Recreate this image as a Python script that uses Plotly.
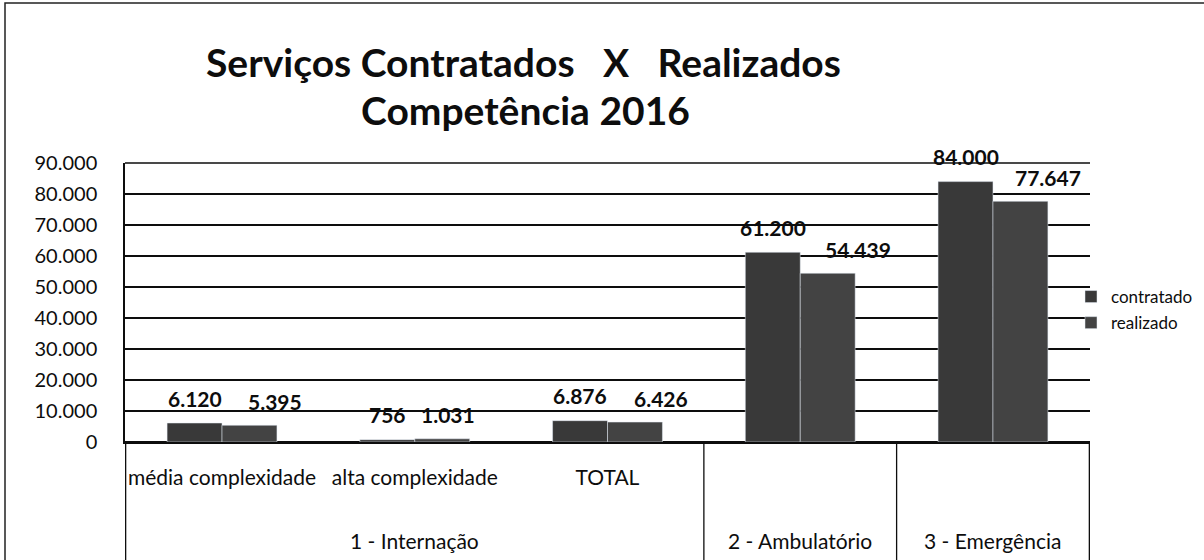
import plotly.graph_objects as go

categories = ["média complexidade", "alta complexidade", "TOTAL", "2 - Ambulatório", "3 - Emergência"]
inner_labels = ["média complexidade", "alta complexidade", "TOTAL", "", ""]
groups = ["1 - Internação", "2 - Ambulatório", "3 - Emergência"]
group_pos = [1, 3, 4]
contratado = [6120, 756, 6876, 61200, 84000]
realizado = [5395, 1031, 6426, 54439, 77647]
yticks = [0, 10000, 20000, 30000, 40000, 50000, 60000, 70000, 80000, 90000]

FONT = "Lato"
INK = "#0d0d0d"
BAR_C = "#393939"
BAR_R = "#434343"

# plot area in pixels
L, R, T, B, W, H = 125, 114, 163, 118, 1204, 560
pw, ph = W - L - R, H - T - B


def px_x(p):
    return (p - L) / pw


def px_y(p):
    return (H - B - p) / ph


def br(v):
    return f"{v:,}".replace(",", ".")


fig = go.Figure()
fig.add_trace(go.Bar(x=categories, y=contratado, name="contratado", marker_color=BAR_C,
                     legendgroup="c"))
fig.add_trace(go.Bar(x=categories, y=realizado, name="realizado", marker_color=BAR_R,
                     legendgroup="r"))

ann = []
# data labels (Excel nudged the realizado labels to the right)
r_shift = [26, 6, 26, 30, 28]
lab_font = dict(family=FONT, size=21, color=INK, weight="bold")
for i, (c, r) in enumerate(zip(contratado, realizado)):
    ann.append(dict(x=i - 0.1425, y=c, text=br(c), showarrow=False, yshift=25,
                    yanchor="middle", font=lab_font))
    ann.append(dict(x=i + 0.1425, y=r, text=br(r), showarrow=False, yshift=24,
                    xshift=r_shift[i], yanchor="middle", font=lab_font))
# outer category labels
for g, p in zip(groups, group_pos):
    ann.append(dict(x=p, y=px_y(540), yref="paper", text=g, showarrow=False,
                    yanchor="middle", font=dict(family=FONT, size=21, color=INK)))
# title
ttl_font = dict(family=FONT, size=39, color=INK)
ann.append(dict(x=px_x(523), y=px_y(62), xref="paper", yref="paper",
                text="<b>Serviços Contratados&nbsp;&nbsp;&nbsp;X&nbsp;&nbsp;&nbsp;Realizados</b>",
                showarrow=False, xanchor="center", yanchor="middle", font=ttl_font))
ann.append(dict(x=px_x(525), y=px_y(110), xref="paper", yref="paper",
                text="<b>Competência 2016</b>",
                showarrow=False, xanchor="center", yanchor="middle", font=ttl_font))

shapes = []
for xv in [-0.5, 2.5, 3.5, 4.5]:
    shapes.append(dict(type="line", xref="x", yref="paper", x0=xv, x1=xv, y0=0, y1=px_y(570),
                       line=dict(color=INK, width=1.3)))
# outer chart border
shapes.append(dict(type="rect", xref="paper", yref="paper",
                   x0=px_x(5), x1=px_x(1240), y0=px_y(600), y1=px_y(3),
                   line=dict(color="#222", width=1.5), fillcolor="rgba(0,0,0,0)"))
shapes.append(dict(type="line", xref="paper", yref="paper", x0=0, x1=1, y0=1, y1=1,
                   line=dict(color=INK, width=1.5)))

fig.update_layout(
    width=W, height=H,
    margin=dict(l=L, r=R, t=T, b=B, autoexpand=False),
    paper_bgcolor="white", plot_bgcolor="white",
    separators=",.",
    barmode="group", bargap=0.43, bargroupgap=0,
    font=dict(family=FONT, color=INK),
    annotations=ann, shapes=shapes,
    legend=dict(x=px_x(1071), xanchor="left", y=px_y(279), yanchor="top",
                bgcolor="rgba(0,0,0,0)", font=dict(family=FONT, size=17, color=INK),
                tracegroupgap=1, itemwidth=30),
)
fig.update_xaxes(tickvals=categories, ticktext=inner_labels, showline=True, linecolor=INK,
                 linewidth=1.5, ticks="", tickfont=dict(family=FONT, size=21, color=INK),
                 ticklabelstandoff=16)
fig.update_yaxes(range=[0, 90000], tickvals=yticks, tickformat=",d", showgrid=True,
                 gridcolor=INK, gridwidth=1.5, zeroline=True, zerolinecolor=INK,
                 showline=True, linecolor=INK, linewidth=1.5,
                 tickfont=dict(family=FONT, size=20, color=INK), ticklabelstandoff=22)

# drop the browser's default 8px body margin so the figure sits at the page origin
fig.write_html("out.html", config={"displayModeBar": False},
               post_script="document.body.style.margin='0px';")
